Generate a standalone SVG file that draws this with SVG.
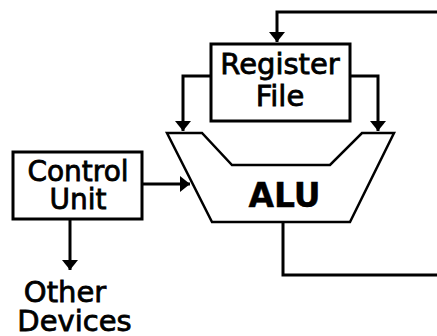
<svg xmlns="http://www.w3.org/2000/svg" width="437" height="336" viewBox="0 0 437 336">
<style>
.box{fill:#fff;stroke:#000;stroke-width:3}
.alu{fill:#fff;stroke:#000;stroke-width:2.5;stroke-linejoin:miter}
.wire{fill:none;stroke:#000;stroke-width:3}
.t{font-family:"DejaVu Sans","Liberation Sans",sans-serif;font-size:29px;fill:#000;stroke:#000;stroke-width:0.8;text-anchor:middle}
.s{font-size:28px}
.b{font-weight:bold;font-size:33px;stroke-width:0.4}
</style>
<defs>
<marker id="ah" markerUnits="userSpaceOnUse" markerWidth="12" markerHeight="16" viewBox="0 0 12 16" refX="11" refY="8" orient="auto">
<path d="M1,0 L11,8 L1,16 Z" fill="#000"/>
</marker>
</defs>
<rect width="437" height="336" fill="#fff"/>
<g id="connectors">
<path class="wire" d="M437,12 H277 V42" marker-end="url(#ah)"/>
<path class="wire" d="M211,76 H183 V131" marker-end="url(#ah)"/>
<path class="wire" d="M350,76 H378 V131" marker-end="url(#ah)"/>
<path class="wire" d="M142,184 H190" marker-end="url(#ah)"/>
<path class="wire" d="M70,220 V270" marker-end="url(#ah)"/>
<path class="wire" d="M283,222 V275 H437"/>
</g>
<g id="register-file">
<rect class="box" x="211" y="44" width="139" height="77"/>
<text class="t" x="280" y="74">Register</text>
<text class="t" x="280" y="106">File</text>
</g>
<g id="alu">
<polygon class="alu" points="167,133 202,133 232,165 330,165 362,133 394,133 350,222 212,222"/>
<text class="t b" x="284.5" y="207">ALU</text>
</g>
<g id="control-unit">
<rect class="box" x="13" y="152" width="129" height="67"/>
<text class="t s" x="78" y="181">Control</text>
<text class="t s" x="78" y="209">Unit</text>
</g>
<g id="other-devices">
<text class="t" x="65" y="302">Other</text>
<text class="t" x="74.5" y="331">Devices</text>
</g>
</svg>
